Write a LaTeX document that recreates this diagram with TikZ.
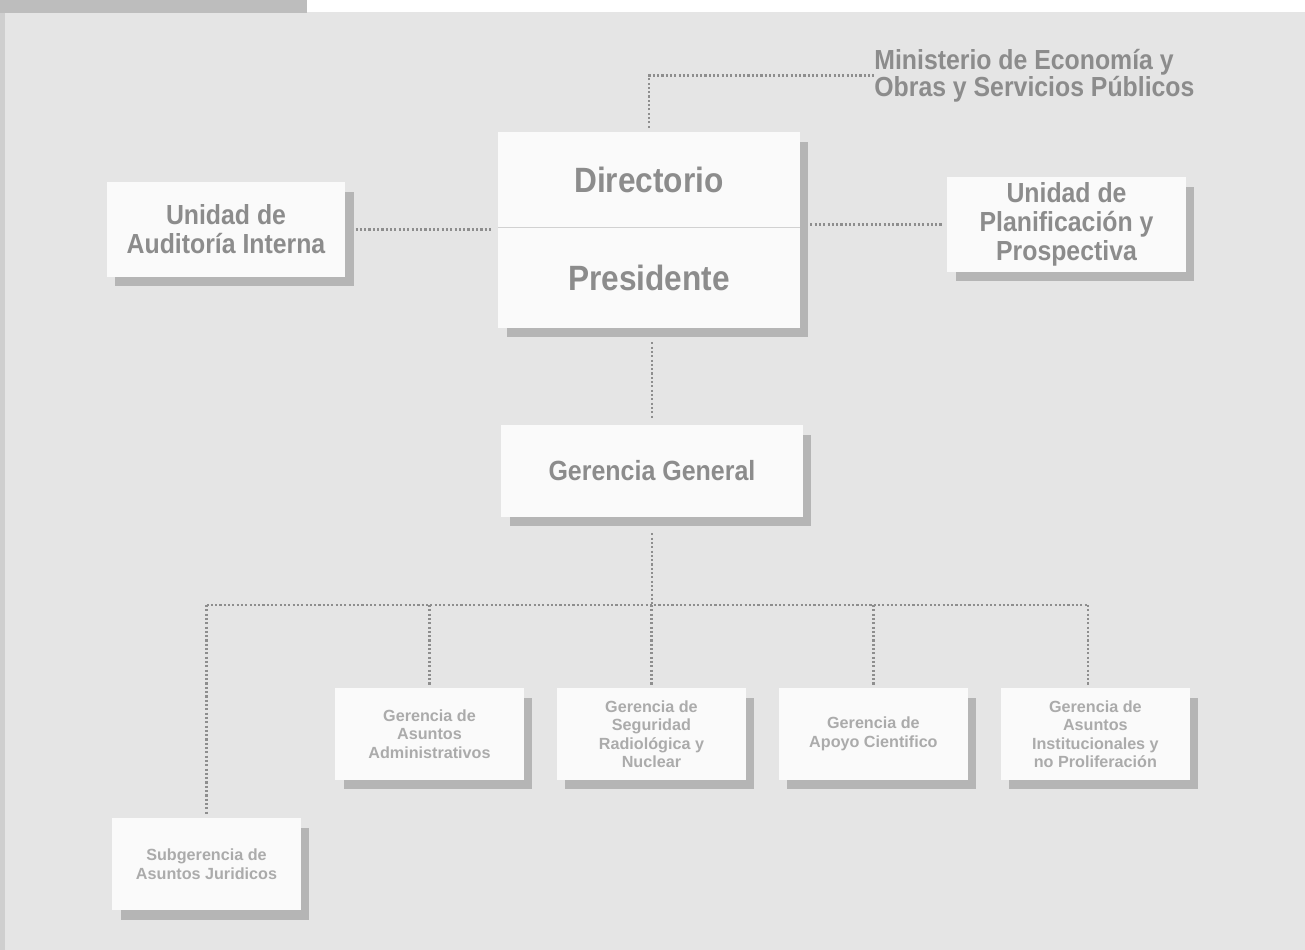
\documentclass[tikz,border=0pt]{standalone}
\usepackage{fontspec}
\setmainfont{Liberation Sans}
\newfontfamily\headfont{Liberation Sans}[FakeStretch=0.9]
\usetikzlibrary{positioning,shadows}
\definecolor{paper}{HTML}{E5E5E5}
\definecolor{bandgray}{HTML}{BDBDBD}
\definecolor{edgegray}{HTML}{CFCFCF}
\definecolor{boxwhite}{HTML}{FAFAFA}
\definecolor{shadowgray}{HTML}{B5B5B5}
\definecolor{inkgray}{HTML}{8C8C8C}
\definecolor{palegray}{HTML}{ABABAB}
\definecolor{dotgray}{HTML}{8E8E8E}

\begin{document}
\begin{tikzpicture}[x=0.02cm,y=-0.02cm,node distance=4.44cm,
                    box/.style={fill=boxwhite,align=center,inner sep=0pt,
                      general shadow={fill=shadowgray,shadow xshift=0.17cm,shadow yshift=-0.19cm}},
                    unit/.style={box,text=inkgray,minimum width=4.77cm,minimum height=1.9cm,
                      font=\headfont\bfseries\fontsize{15.7}{16.4}\selectfont},
                    head/.style={text=inkgray,minimum width=6.04cm,inner sep=0pt,
                      font=\headfont\bfseries\fontsize{20}{22}\selectfont},
                    gerencia/.style={box,text=palegray,minimum width=3.78cm,minimum height=1.84cm,
                      font=\bfseries\fontsize{9.2}{10.5}\selectfont},
                    link/.style={draw=dotgray,line width=1.3pt,dash pattern=on 1.2pt off 1.25pt}]

  % page
  \fill[paper]    (0,0)   rectangle (1305,950);
  \fill[bandgray] (0,0)   rectangle (307,13);
  \fill[white]    (307,0) rectangle (1305,12);
  \fill[edgegray] (0,13)  rectangle (5,950);

  % top
  \node[box,minimum width=6.04cm,minimum height=3.92cm] (mando) at (649,230) {};
  \node[head,minimum height=1.9cm]  (dir)  at (649,179.5) {Directorio};
  \node[head,minimum height=2.02cm] (pres) at (649,277.5) {Presidente};
  \draw[draw=black!18,line width=0.8pt] (dir.south west) -- (dir.south east);

  \node[unit] (audit) at (226,229.5)  {Unidad de\\Auditoría Interna};
  \node[unit] (plan)  at (1066.5,224.5) {Unidad de\\Planificación y\\Prospectiva};
  \node[text=inkgray,anchor=west,align=left,inner sep=0pt,
        font=\headfont\bfseries\fontsize{15.7}{15.4}\selectfont]
        (minis) at (874,75.5) {Ministerio de Economía y\\Obras y Servicios Públicos};

  \node[unit,minimum width=6.04cm,minimum height=1.84cm,font=\headfont\bfseries\fontsize{15.8}{17}\selectfont]
        (gg) at (652,471) {Gerencia General};

  % gerencias
  \node[gerencia] (adm)            at (429.5,734) {Gerencia de\\Asuntos\\Administrativos};
  \node[gerencia] (seg) [right of=adm]            {Gerencia de\\Seguridad\\Radiológica y\\Nuclear};
  \node[gerencia] (apo) [right of=seg]            {Gerencia de\\Apoyo Cientifico};
  \node[gerencia] (ins) [right of=apo]            {Gerencia de\\Asuntos\\Institucionales y\\no Proliferación};
  \node[gerencia] (sub)            at (206.5,864) {Subgerencia de\\Asuntos Juridicos};

  \coordinate (bus) at (652,605);
  \coordinate (insdrop) at ([xshift=-0.15cm]ins.north);

  \draw[link,shorten <=0.08cm] (mando.north) |- (minis.west);
  \draw[link,shorten <=0.2cm,shorten >=0.1cm] (audit.east) -- (mando.west |- audit.east);
  \draw[link,shorten <=0.2cm,shorten >=0.08cm] (mando.east |- plan.west) -- (plan.west);
  \draw[link,shorten <=0.28cm,shorten >=0.1cm] (gg.north |- mando.south) -- (gg.north);
  \draw[link,shorten <=0.32cm] (gg.south) -- (bus);
  \draw[link] (sub.north |- bus) -- (insdrop |- bus);
  \foreach \k in {sub.north,adm.north,seg.north,apo.north,insdrop}
    \draw[link,shorten >=0.04cm] (\k |- bus) -- (\k);
\end{tikzpicture}
\end{document}
